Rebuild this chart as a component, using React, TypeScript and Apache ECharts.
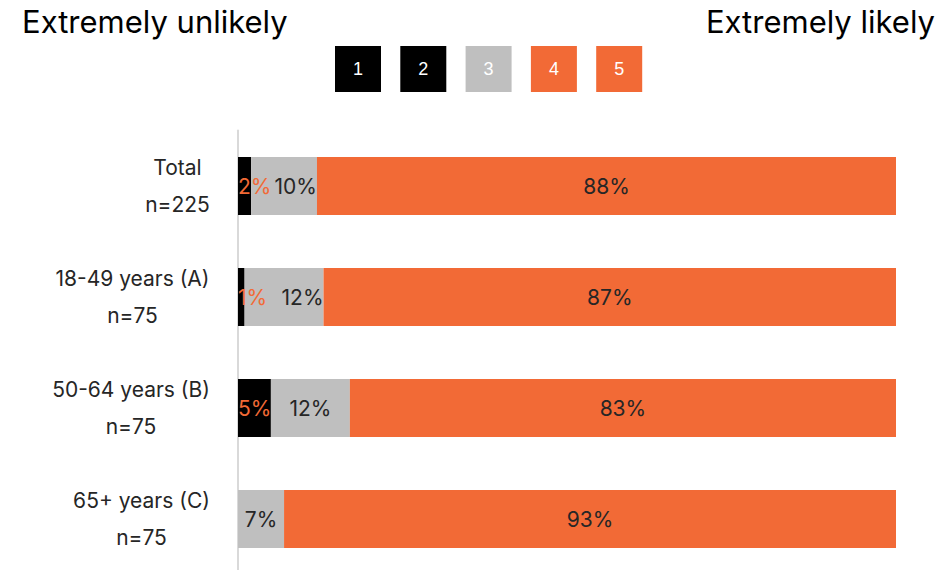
import React, { useEffect, useRef } from "react";
import * as echarts from "echarts";

const categories = ["Total\nn=225", "18-49 years (A)\nn=75", "50-64 years (B)\nn=75", "65+ years (C)\nn=75"];
const bottom2 = [2, 1, 5, 0];
const neutral = [10, 12, 12, 7];
const top2 = [88, 87, 83, 93];
const legendItems = ["1", "2", "3", "4", "5"];

const BLACK = "#000000";
const GRAY = "#bfbfbf";
const ORANGE = "#f26a36";
const legendColors = [BLACK, BLACK, GRAY, ORANGE, ORANGE];
const FONT = "Inter";
const LABEL_SIZE = 21;

function measure(text: string, size: number, family: string): number {
  const c = document.createElement("canvas").getContext("2d");
  if (!c) return text.length * size * 0.55;
  c.font = `${size}px ${family}`;
  return c.measureText(text).width;
}

export default function App() {
  const ref = useRef<HTMLDivElement>(null);
  useEffect(() => {
    if (!ref.current) return;
    const chart = echarts.init(ref.current, undefined, { renderer: "svg" });
    const rich: Record<string, any> = {};
    categories.forEach((c, i) => {
      const w = Math.max(...c.split("\n").map((l) => measure(l, LABEL_SIZE, FONT)));
      rich["c" + i] = {
        width: Math.ceil(w) + 2,
        align: "center",
        fontFamily: FONT,
        fontSize: LABEL_SIZE,
        color: "#262626",
        lineHeight: 37,
      };
    });
    const barLabel = (color: string, position: any, distance = 5) => ({
      show: true,
      position,
      distance,
      color,
      fontFamily: FONT,
      fontSize: LABEL_SIZE,
      formatter: (p: any) => (p.value > 0 ? `${p.value}%` : ""),
    });
    const legendGraphics: any[] = [];
    legendItems.forEach((name, i) => {
      const x = 335 + i * 65.3;
      legendGraphics.push({
        type: "rect",
        left: x,
        top: 46,
        shape: { width: 46, height: 46 },
        style: { fill: legendColors[i] },
      });
      legendGraphics.push({
        type: "text",
        x: x + 23,
        y: 69,
        style: {
          text: name,
          fill: "#ffffff",
          font: "18px Arial, 'Liberation Sans'",
          textAlign: "center",
          textVerticalAlign: "middle",
        },
      });
    });
    chart.setOption({
      animation: false,
      grid: { left: 238, right: 50, top: 130.5, bottom: 5.5, containLabel: false },
      xAxis: { type: "value", min: 0, max: 100, show: false },
      yAxis: {
        type: "category",
        data: categories,
        inverse: true,
        axisTick: { show: false },
        axisLine: { show: true, lineStyle: { color: "#d9d9d9", width: 2 } },
        axisLabel: {
          margin: 27,
          align: "right",
          formatter: (v: string, idx: number) =>
            v
              .split("\n")
              .map((l) => `{c${idx}|${l}}`)
              .join("\n"),
          rich,
        },
      },
      graphic: [
        {
          type: "text",
          left: 22,
          top: 6,
          style: { text: "Extremely unlikely", font: `31px ${FONT}`, fill: "#000" },
        },
        {
          type: "text",
          right: 11,
          top: 6,
          style: { text: "Extremely likely", font: `31px ${FONT}`, fill: "#000" },
        },
        ...legendGraphics,
      ],
      series: [
        {
          name: "Bottom 2",
          type: "bar",
          stack: "s",
          barWidth: 58,
          data: bottom2,
          itemStyle: { color: BLACK },
          label: barLabel(ORANGE, "insideLeft", 0),
        },
        {
          name: "3",
          type: "bar",
          stack: "s",
          data: neutral.map((v, i) =>
            bottom2[i] > 0 && bottom2[i] < 3
              ? { value: v, label: { position: "insideRight", distance: 0 } }
              : v
          ),
          itemStyle: { color: GRAY },
          label: barLabel("#262626", "inside"),
        },
        {
          name: "Top 2",
          type: "bar",
          stack: "s",
          data: top2,
          itemStyle: { color: ORANGE },
          label: barLabel("#262626", "inside"),
        },
      ],
    });
    return () => chart.dispose();
  }, []);
  return <div ref={ref} style={{ width: 946, height: 580, margin: -8 }} />;
}
